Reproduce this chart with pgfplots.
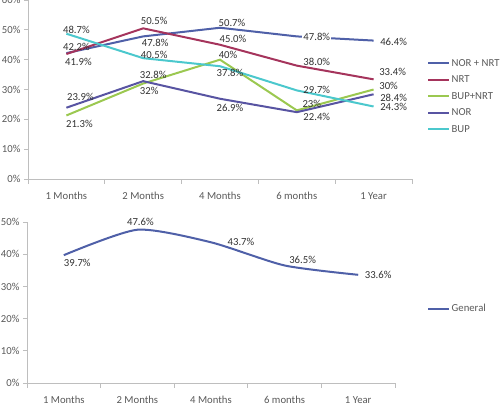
\documentclass[border=0pt]{standalone}
\usepackage{fontspec}
\setmainfont{Carlito}
\usepackage{pgfplots}
\usepackage{pgfplotstable}
\pgfplotsset{compat=1.18}

\definecolor{cNORNRT}{RGB}{79,96,168}
\definecolor{cNRT}{RGB}{165,52,92}
\definecolor{cBUPNRT}{RGB}{155,200,80}
\definecolor{cNOR}{RGB}{88,84,162}
\definecolor{cBUP}{RGB}{75,200,205}
\definecolor{cGEN}{RGB}{79,96,168}
\definecolor{axisgray}{RGB}{190,190,190}
\definecolor{ticktext}{RGB}{89,89,89}
\definecolor{labtext}{RGB}{50,50,50}

% columns: category index, value, label offset (pt), label background opacity
\pgfplotstableread{
x y    dx  dy   f lab
0 42.2 10  6.5  0 42.2
1 47.8 12 -6.7  0 47.8
2 50.7 12  4.6  0 50.7
3 47.8 20  0    1 47.8
4 46.4 20 -1    0 46.4
}\tNORNRT
\pgfplotstableread{
x y    dx  dy   f lab
0 41.9 12 -7.6  0 41.9
1 50.5 11  7    0 50.5
2 45.0 13  5.6  0 45.0
3 38.0 20  4    0 38.0
4 33.4 19  7    0 33.4
}\tNRT
\pgfplotstableread{
x y    dx  dy   f lab
0 21.3 13 -8.5  0 21.3
1 32.0  6 -7    0 32
2 40.0  8  4.8  0 40
3 23.0 15  6    0 23
4 30.0 15  3.6  0 30
}\tBUPNRT
\pgfplotstableread{
x y    dx  dy   f lab
0 23.9 14 10.5  0 23.9
1 32.8 10  6.3  0 32.8
2 26.9 10 -9    0 26.9
3 22.4 20 -5    0 22.4
4 28.4 20 -4    0 28.4
}\tNOR
\pgfplotstableread{
x y    dx  dy   f lab
0 48.7 10  4    0 48.7
1 40.5 11  3.3  0 40.5
2 37.8 10 -6.3  0 37.8
3 29.7 20  0.5  0 29.7
4 24.3 20  0    0 24.3
}\tBUP
\pgfplotstableread{
x y    dx   dy  f lab
0 39.7 13.5 -8  0 39.7
1 47.6  3    8  0 47.6
2 43.7 30  0.6  0 43.7
3 36.5 18    6  0 36.5
4 33.6 20    0  0 33.6
}\tGEN

\newcommand\chartfont{\fontsize{10.7}{12.5}\selectfont}

\pgfplotsset{
  excelaxis/.style={
    scale only axis,
    axis x line*=bottom, axis y line*=left,
    axis line style={draw=axisgray, line width=0.8pt},
    xmin=-0.5, xmax=4.5,
    xtick={0,...,4},
    xticklabels={1 Months, 2 Months, 4 Months, 6 months, 1 Year},
    minor xtick={-0.5,0.5,...,4.5},
    major x tick style={draw=none},
    minor x tick style={draw=axisgray, line width=0.8pt},
    ytick style={draw=axisgray, line width=0.8pt},
    tick align=outside,
    major tick length=4pt, minor tick length=5pt,
    ymin=0,
    yticklabel={\pgfmathprintnumber{\tick}\%},
    /pgf/number format/assume math mode=true,
    tick label style={font=\chartfont, text=ticktext},
    xticklabel style={yshift=-6pt},
    clip=false,
    legend style={draw=none, fill=none, anchor=west, font=\chartfont,
      text=ticktext, inner sep=0pt, row sep=7pt,
      nodes={inner xsep=1.5pt, inner ysep=0pt, text height=7.5pt, text depth=2pt}},
    legend cell align=left,
    legend image code/.code={\draw[##1, line width=2pt] (0pt,0pt) -- (21pt,0pt);},
  },
  vlabels/.style={
    draw=none, mark=none, forget plot,
    point meta=explicit symbolic,
    nodes near coords={\pgfplotspointmeta\%},
    visualization depends on={\thisrow{dx}\as\dx},
    visualization depends on={\thisrow{dy}\as\dy},
    visualization depends on={\thisrow{f}\as\fo},
    every node near coord/.append style={anchor=center, xshift=\dx pt, yshift=\dy pt,
      fill=white, fill opacity=\fo, text opacity=1, inner sep=1pt,
      font=\chartfont, text=labtext},
  },
}

\begin{document}
\begin{tikzpicture}
\begin{axis}[excelaxis,
  at={(28pt,231pt)}, anchor=south west,
  width=384pt, height=179pt,
  ymax=60, ytick={0,10,...,60},
  legend style={at={(1.039,0.461)}},
]
\addplot[cNORNRT, line width=2pt] table[x=x, y=y] {\tNORNRT};
\addlegendentry{NOR + NRT}
\addplot[cNRT, line width=2pt] table[x=x, y=y] {\tNRT};
\addlegendentry{NRT}
\addplot[cBUPNRT, line width=2pt] table[x=x, y=y] {\tBUPNRT};
\addlegendentry{BUP+NRT}
\addplot[cNOR, line width=2pt] table[x=x, y=y] {\tNOR};
\addlegendentry{NOR}
\addplot[cBUP, line width=2pt] table[x=x, y=y] {\tBUP};
\addlegendentry{BUP}
% value labels, drawn above all lines
\addplot[vlabels] table[x=x, y=y, meta=lab] {\tNORNRT};
\addplot[vlabels] table[x=x, y=y, meta=lab] {\tNRT};
\addplot[vlabels] table[x=x, y=y, meta=lab] {\tBUPNRT};
\addplot[vlabels] table[x=x, y=y, meta=lab] {\tNOR};
\addplot[vlabels] table[x=x, y=y, meta=lab] {\tBUP};
\end{axis}

\begin{axis}[excelaxis,
  at={(27pt,27pt)}, anchor=south west,
  width=368pt, height=161pt,
  ymax=50, ytick={0,10,...,50},
  legend style={at={(1.087,0.46)}},
]
\addplot[cGEN, line width=2pt, smooth, tension=0.4] table[x=x, y=y] {\tGEN};
\addlegendentry{General}
\addplot[vlabels] table[x=x, y=y, meta=lab] {\tGEN};
\end{axis}

\pgfresetboundingbox
\useasboundingbox (0,0) rectangle (504pt,410pt);
\end{tikzpicture}
\end{document}
